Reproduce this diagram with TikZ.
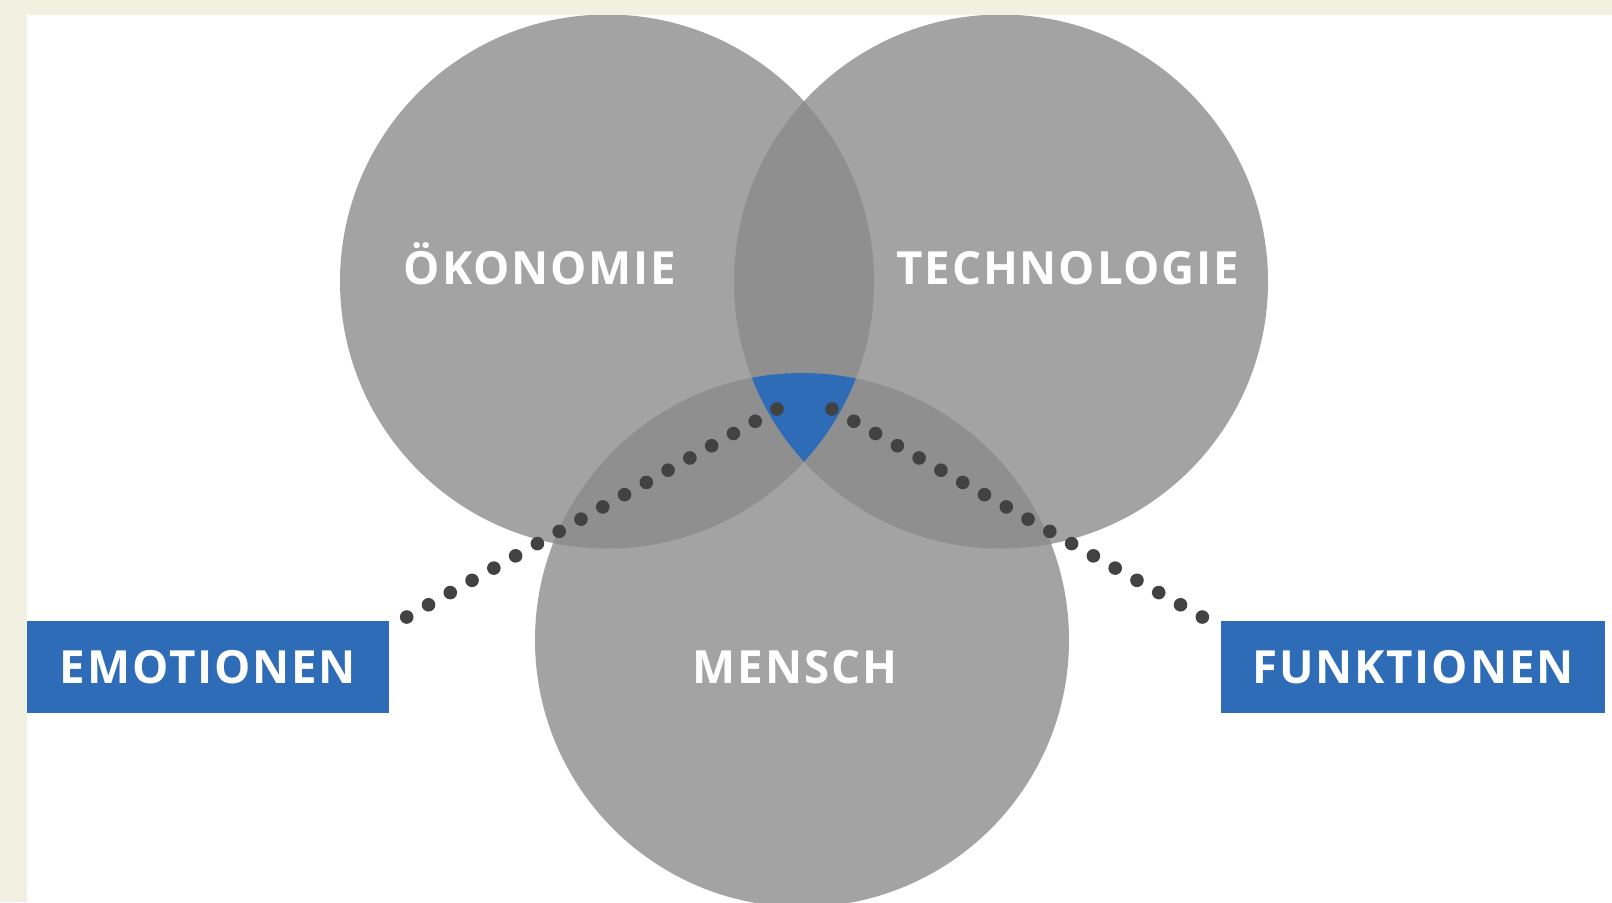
\documentclass[tikz,border=0pt]{standalone}
\usepackage{fontspec}
\newfontfamily\labelfont[LetterSpace=4]{Open Sans}
\usetikzlibrary{calc}
\definecolor{paper}{HTML}{F2F0E0}
\definecolor{setgray}{HTML}{A3A3A3}
\definecolor{cutgray}{HTML}{8F8F8F}
\definecolor{coreblue}{HTML}{2F6CB8}
\definecolor{dotgray}{HTML}{424242}

\begin{document}
\begin{tikzpicture}
    \tikzstyle{setname} = [text=white, font=\labelfont\bfseries\fontsize{13}{13}\selectfont, anchor=base, inner sep=0pt]
    \tikzstyle{tagbox} = [setname, fill=coreblue, anchor=center, minimum height=0.92cm]
    \useasboundingbox (0, 0) rectangle (16.12, -9.02);
    \fill[paper] (0, 0) rectangle (16.12, -9.02);
    \fill[white] (0.27, -0.15) rectangle (16.12, -9.02);
    \clip (0.27, -0.15) rectangle (16.12, -9.02);
    % circle centres
    \coordinate (oek) at (6.07, -2.815);
    \coordinate (tec) at (10.01, -2.815);
    \coordinate (men) at (8.02, -6.40);
    \foreach \c in {oek, tec, men}
        \fill[setgray] (\c) circle[radius=2.67cm];
    % overlaps
    \begin{scope}
        \clip (oek) circle[radius=2.67cm];
        \fill[cutgray] (tec) circle[radius=2.67cm];
        \fill[cutgray] (men) circle[radius=2.67cm];
    \end{scope}
    \begin{scope}
        \clip (tec) circle[radius=2.67cm];
        \fill[cutgray] (men) circle[radius=2.67cm];
    \end{scope}
    \begin{scope}
        \clip (oek) circle[radius=2.67cm];
        \clip (tec) circle[radius=2.67cm];
        \fill[coreblue] (men) circle[radius=2.67cm];
    \end{scope}
    \node[setname] (oek label) at (5.40, -2.84) {ÖKONOMIE};
    \node[setname] (tec label) at (10.68, -2.84) {TECHNOLOGIE};
    \node[setname] (men label) at (7.95, -6.835) {MENSCH};
    \node[tagbox, minimum width=3.62cm] (emo) at (2.08, -6.67) {EMOTIONEN};
    \node[tagbox, minimum width=3.84cm] (fun) at (14.13, -6.67) {FUNKTIONEN};
    % dotted leaders into the core
    \coordinate (emo tip) at ($(emo.north east) + (0.17, 0.033)$);
    \coordinate (fun tip) at ($(fun.north west) + (-0.18, 0.033)$);
    \coordinate (core l) at (7.77, -4.09);
    \coordinate (core r) at (8.32, -4.09);
    \foreach \i in {0,...,17} {
        \fill[dotgray] ($(emo tip)!\i/17!(core l)$) circle[radius=0.068cm];
        \fill[dotgray] ($(core r)!\i/17!(fun tip)$) circle[radius=0.068cm];
    }
\end{tikzpicture}
\end{document}
